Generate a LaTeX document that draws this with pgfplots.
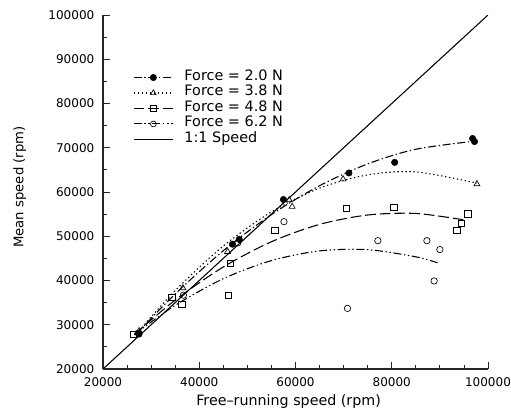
\documentclass[border=0pt]{standalone}
\usepackage{pgfplots}
\pgfplotsset{compat=1.18}
\usepackage{fontspec}
\setmainfont{DejaVu Sans}

% curve styles
\tikzset{
  f20/.style={black, line width=0.8pt, dash pattern=on 6pt off 2pt on 1pt off 2pt},
  f38/.style={black, line width=0.8pt, dash pattern=on 1pt off 2pt},
  f48/.style={black, line width=0.8pt, dash pattern=on 8pt off 3pt},
  f62/.style={black, line width=0.8pt, dash pattern=on 6pt off 2pt on 1pt off 2pt on 1pt off 2pt},
}

\begin{document}
\begin{tikzpicture}
\begin{axis}[
    name=ax,
    scale only axis,
    width=288.75pt, height=265.5pt,
    xmin=20000, xmax=100000,
    ymin=20000, ymax=100000,
    axis lines=left,
    axis line style={-, line width=0.8pt, black!85},
    tick align=inside,
    tick style={black!85, line width=0.6pt},
    major tick length=5pt, minor tick length=3pt,
    xtick={20000,40000,60000,80000,100000},
    ytick={20000,30000,40000,50000,60000,70000,80000,90000,100000},
    minor x tick num=3,
    minor y tick num=1,
    scaled ticks=false,
    /pgf/number format/fixed,
    /pgf/number format/1000 sep={},
    /pgf/number format/assume math mode=true,
    tick label style={font=\fontsize{9}{11}\selectfont},
    xticklabel style={anchor=center, yshift=-9.75pt},
    yticklabel style={anchor=east, xshift=-3pt},
    xlabel={Free–running speed (rpm)},
    ylabel={Mean speed (rpm)},
    xlabel style={font=\fontsize{10.7}{12}\selectfont,
        at={(axis description cs:0.482,-0.093)}, anchor=center},
    ylabel style={font=\fontsize{9.9}{12}\selectfont,
        at={(axis description cs:-0.216,0.514)}, anchor=center},
    legend cell align=left,
    legend style={at={(axis description cs:0.078,0.846)}, anchor=north west,
        draw=none, fill=none, inner sep=0pt, row sep=0pt,
        nodes={inner sep=0pt, text height=8pt, text depth=3.6pt},
        font=\fontsize{10.8}{12}\selectfont},
    legend image code/.code={\draw[mark repeat=2, mark phase=2, #1]
        plot coordinates {(0cm,0cm) (0.515cm,0cm) (1.03cm,0cm)};
        \path (1.32cm,0cm);},
]
% legend entries
\addlegendimage{f20, mark=*, mark size=2.2pt, mark options={solid, fill=black}}
\addlegendentry{Force = 2.0 N}
\addlegendimage{f38, mark=triangle, mark size=2.4pt, mark options={solid, line width=0.5pt}}
\addlegendentry{Force = 3.8 N}
\addlegendimage{f48, mark=square, mark size=2.2pt, mark options={solid, line width=0.5pt}}
\addlegendentry{Force = 4.8 N}
\addlegendimage{f62, mark=o, mark size=2.2pt, mark options={solid, line width=0.5pt}}
\addlegendentry{Force = 6.2 N}
\addlegendimage{black, line width=0.8pt}
\addlegendentry{1:1 Speed}

% 1:1 line
\addplot[black, line width=0.8pt, forget plot] coordinates {(20000,20000) (100000,100000)};

% fitted curves
\addplot[f20, smooth, forget plot] coordinates {
 (27000,28000) (35000,36970) (45000,46730) (55000,54890) (65000,61420)
 (75000,66350) (85000,69660) (97500,71530)};
\addplot[f38, smooth, forget plot] coordinates {
 (27000,28000) (35000,37730) (45000,47790) (55000,55500) (65000,60870)
 (75000,63870) (85000,64540) (97700,62010)};
\addplot[f48, smooth, forget plot] coordinates {
 (26500,27800) (35000,35570) (45000,43060) (55000,48760) (65000,52680)
 (75000,54800) (85000,55150) (95000,53700)};
\addplot[f62, smooth, forget plot] coordinates {
 (26500,27800) (35000,34400) (45000,40410) (55000,44500) (65000,46690)
 (75000,46970) (85000,45350) (89500,44000)};

% measured points
\addplot[only marks, mark=*, mark size=2.4pt, black, forget plot] coordinates {
 (27500,27900) (46900,48200) (48300,49300) (57500,58300) (71100,64300)
 (80600,66700) (96800,72100) (97200,71400)};
\addplot[only marks, mark=triangle, mark size=2.6pt, black, line width=0.5pt, forget plot] coordinates {
 (27500,28600) (36600,38300) (45900,46500) (58700,58200) (59300,56700)
 (69900,62900) (97700,61800)};
\addplot[only marks, mark=square, mark size=2.4pt, black, line width=0.5pt, forget plot] coordinates {
 (26300,27800) (34300,36200) (36400,34600) (46000,36700) (46400,43900)
 (55700,51300) (70500,56300) (80400,56500) (95800,55100) (94500,52900)
 (93500,51400)};
\addplot[only marks, mark=o, mark size=2.4pt, black, line width=0.5pt, forget plot] coordinates {
 (27300,28100) (36700,36700) (48000,48500) (57600,53300) (70800,33700)
 (77100,49000) (87300,49000) (90000,47000) (88800,39900)};
\end{axis}
\pgfresetboundingbox
\path ([xshift=-77.25pt,yshift=-35.25pt]ax.south west) rectangle ([xshift=17.25pt,yshift=11.25pt]ax.north east);
\end{tikzpicture}
\end{document}
